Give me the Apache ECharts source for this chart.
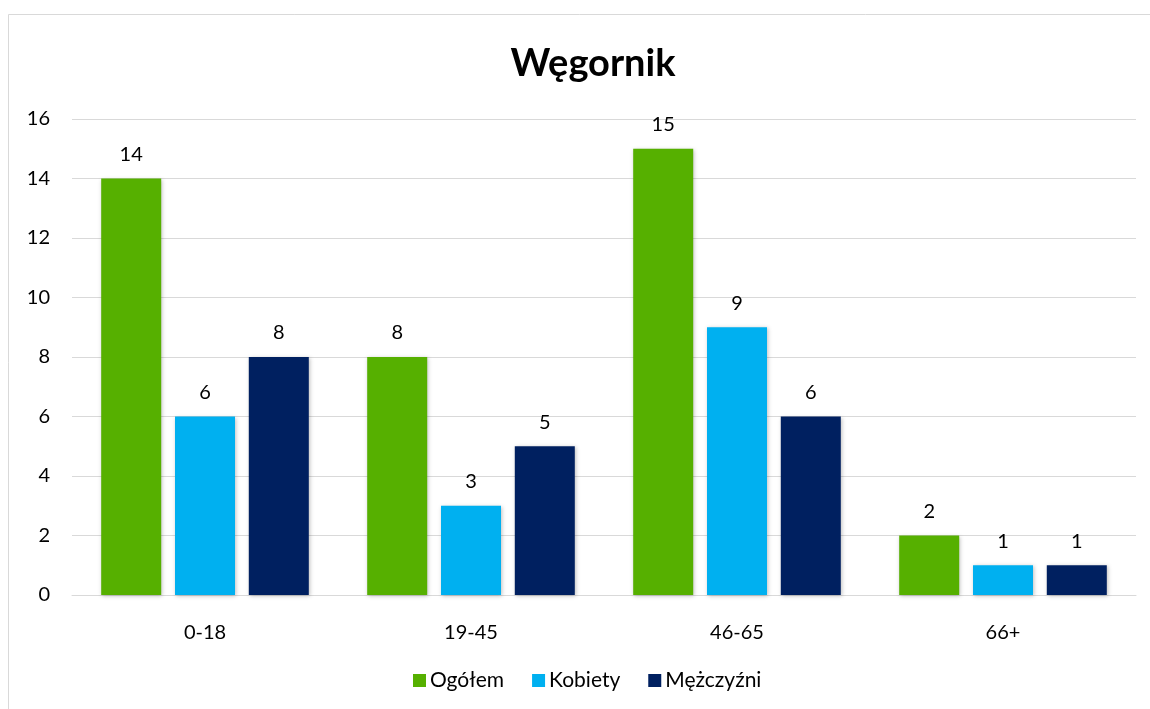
<!DOCTYPE html>
<html><head><meta charset="utf-8">
<script src="https://cdn.jsdelivr.net/npm/echarts@6/dist/echarts.min.js"></script>
<style>html,body{margin:0;padding:0;background:#fff}#c{width:1150px;height:709px}</style>
</head><body><div id="c"></div>
<script>
const categories = ['0-18', '19-45', '46-65', '66+'];
const ogolem = [14, 8, 15, 2];
const kobiety = [6, 3, 9, 1];
const mezczyzni = [8, 5, 6, 1];
const yTicks = [0, 2, 4, 6, 8, 10, 12, 14, 16];

const FONT = 'Lato';
const chart = echarts.init(document.getElementById('c'), null, {renderer: 'canvas'});
function ser(name, data, color) {
  return {
    name, type: 'bar', data, barWidth: 60, barGap: '23%',
    itemStyle: {color, shadowColor: 'rgba(0,0,0,0.25)', shadowBlur: 4, shadowOffsetX: 1, shadowOffsetY: 1},
    label: {show: true, position: 'top', distance: 14, color: '#000', fontFamily: FONT, fontSize: 20}
  };
}
chart.setOption({
  backgroundColor: '#fff',
  animation: false,
  graphic: [{type: 'rect', shape: {x: 8.5, y: 14.5, width: 1200, height: 800}, style: {fill: 'none', stroke: '#d9d9d9', lineWidth: 1}}],
  title: {text: 'Węgornik', left: 588, textAlign: 'center', top: 40, textStyle: {fontFamily: FONT, fontWeight: 'bold', fontSize: 38, color: '#000'}},
  legend: {bottom: 13, left: 408, itemWidth: 13, itemHeight: 13, itemGap: 28, icon: 'rect',
    textStyle: {fontFamily: FONT, fontSize: 21, color: '#000', padding: [0, 0, 0, -1]}},
  grid: {left: 72, right: 14, top: 119, bottom: 114, containLabel: false},
  xAxis: {type: 'category', data: categories,
    axisLine: {lineStyle: {color: '#d9d9d9', width: 1}}, axisTick: {show: false},
    axisLabel: {color: '#000', fontFamily: FONT, fontSize: 20, margin: 28}},
  yAxis: {type: 'value', min: yTicks[0], max: yTicks[yTicks.length - 1], interval: 2,
    axisLine: {show: false}, axisTick: {show: false},
    splitLine: {lineStyle: {color: '#d9d9d9', width: 1}},
    axisLabel: {color: '#000', fontFamily: FONT, fontSize: 20, margin: 22, align: 'right'}},
  series: [ser('Ogółem', ogolem, '#56B000'), ser('Kobiety', kobiety, '#00B0F0'), ser('Mężczyźni', mezczyzni, '#002060')]
});
</script></body></html>
